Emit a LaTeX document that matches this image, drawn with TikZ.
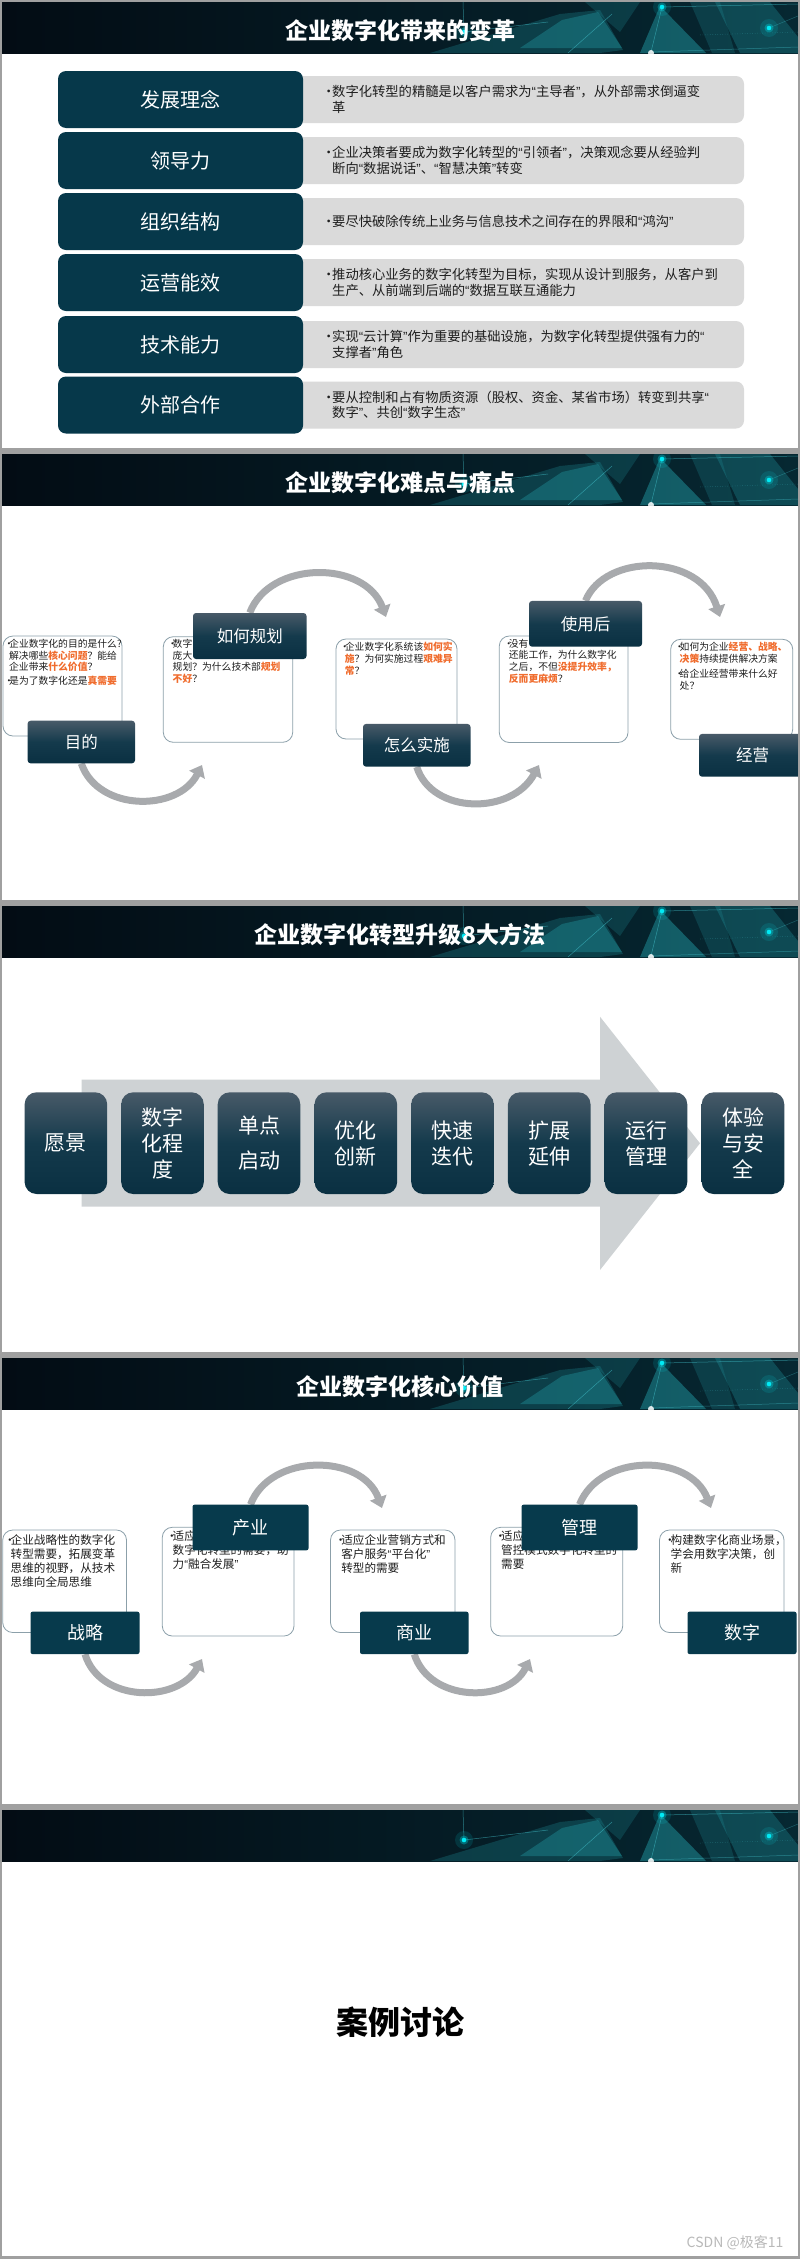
\documentclass[tikz,border=0pt]{standalone}
\usepackage{fontspec}
\setmainfont{Noto Sans CJK SC}
\newfontfamily\qf{Liberation Sans}
\usetikzlibrary{arrows.meta}
\pgfdeclarelayer{back}
\pgfdeclarelayer{front}
\pgfsetlayers{back,main,front}
\definecolor{frame}{RGB}{160,160,160}
\definecolor{navy}{RGB}{6,56,74}
\definecolor{navytwo}{RGB}{7,58,76}
\definecolor{lgray}{RGB}{218,218,218}
\definecolor{txt}{RGB}{30,30,30}
\definecolor{orng}{RGB}{240,108,45}
\definecolor{bord}{RGB}{140,160,170}
\definecolor{arrowgray}{RGB}{168,170,173}
\definecolor{bigarrow}{RGB}{206,210,212}
\definecolor{gtop}{RGB}{72,90,104}
\definecolor{gmid}{RGB}{20,58,76}
\definecolor{gbot}{RGB}{10,48,66}
\definecolor{hl}{RGB}{3,12,20}
\definecolor{hr}{RGB}{6,40,50}
\definecolor{tealA}{RGB}{30,140,150}
\definecolor{tealB}{RGB}{70,200,210}
\definecolor{cyandot}{RGB}{0,235,245}
\definecolor{wm}{RGB}{185,185,185}
\newcommand\bul[1][10pt]{\makebox[#1][l]{•}}
\newcommand\indt[1][10pt]{\hspace*{#1}}
\newcommand\hot[1]{{\color{orng}\bfseries #1}}
\newcommand\ql{{\qf “}}
\newcommand\qr{{\qf ”}}
\newcommand\hdr[1]{%
\begin{scope}[shift={(0,#1)}]
\begin{scope}
\clip (2,0) rectangle (798,51);
\shade[left color=hl,right color=hr] (2,0) rectangle (798,51);
\fill[tealA,opacity=.30] (430,51) -- (560,12) -- (600,8) -- (623,48) -- (600,51) -- cycle;
\fill[tealA,opacity=.45] (520,46) -- (562,18) -- (598,10) -- (622,46) -- cycle;
\fill[tealA,opacity=.25] (585,0) -- (640,0) -- (620,30) -- cycle;
\fill[tealA,opacity=.55] (640,51) -- (660,4) -- (706,51) -- cycle;
\fill[tealA,opacity=.35] (715,0) -- (770,0) -- (798,35) -- (798,51) -- (740,51) -- cycle;
\fill[tealA,opacity=.25] (690,0) -- (720,0) -- (735,51) -- (712,51) -- cycle;
\draw[tealB,opacity=.55,line width=.5] (463,0) -- (464,30) -- (548,20);
\draw[tealB,opacity=.55,line width=.5] (662,5) -- (798,2);
\draw[tealB,opacity=.55,line width=.5] (662,5) -- (651,50);
\draw[tealB,opacity=.55,line width=.5] (568,51) -- (612,12);
\draw[tealB,opacity=.45,line width=.5,dotted] (700,33) -- (798,30);
\draw[tealB,opacity=.45,line width=.5] (651,50) -- (798,45);
\draw[tealB,opacity=.35,line width=.5] (769,26) -- (798,14);
\foreach \px/\py in {464/30,662/5,769/26}{
  \fill[cyandot,opacity=.12] (\px,\py) circle (9);
  \fill[cyandot,opacity=.3] (\px,\py) circle (4.5);
  \fill[cyandot] (\px,\py) circle (2.3);}
\fill[white,opacity=.85] (651,51) circle (3);
\end{scope}
\end{scope}}
\tikzset{
 navybox/.style={fill=navy, rounded corners=8, minimum width=245, minimum height=57, text=white, font=\fontsize{20}{24}\selectfont, inner sep=0},
 graybox/.style={fill=lgray, rounded corners=8, minimum width=454, minimum height=47, inner sep=0},
 rowtext/.style={anchor=west, align=left, inner sep=0, text=txt, font=\fontsize{13.3}{15.5}\selectfont},
 tbox/.style={draw=bord, line width=0.8, fill=white, rounded corners=10, inner sep=0},
 lab/.style={rounded corners=3, text=white, inner sep=0, top color=gtop, bottom color=gbot, middle color=gmid, font=\fontsize{16.5}{18}\selectfont},
 flab/.style={fill=navytwo, rounded corners=2, text=white, inner sep=0, font=\fontsize{18}{20}\selectfont},
 stxt/.style={anchor=north west, align=left, inner sep=0, text=txt, font=\fontsize{9.8}{11.8}\selectfont},
 vtxt/.style={anchor=north west, align=left, inner sep=0, text=txt, font=\fontsize{11.6}{13.9}\selectfont},
 mbox/.style={rounded corners=12, top color=gtop, bottom color=gbot, middle color=gmid, minimum width=82.6, minimum height=101.7, text=white, inner sep=0, align=center, font=\fontsize{21}{26}\selectfont},
 flow/.style={draw=arrowgray, line width=7, -{Triangle[width=17pt,length=11pt]}},
 titlenode/.style={text=white, inner sep=0, font=\fontsize{23}{26}\selectfont\bfseries},
}
\begin{document}
\begin{tikzpicture}[x=1pt,y=-1pt]
\useasboundingbox (0,0) rectangle (800,2259);
\begin{pgfonlayer}{back}
\fill[frame] (0,0) rectangle (800,2259);
\foreach \s in {0,452,904,1356,1808}{\fill[white] (2,\s+2) rectangle (798,\s+448);}
\hdr{2}\hdr{454}\hdr{906}\hdr{1358}\hdr{1810}
\end{pgfonlayer}

% ---------- slide 1 ----------
\node[titlenode] (title1) at (400,31) {企业数字化带来的变革};
\foreach \i/\yy/\lb/\tx in {
 1/99.5/发展理念/{\bul 数字化转型的精髓是以客户需求为\ql 主导者\qr ，从外部需求倒逼变\\\indt 革},
 2/160.5/领导力/{\bul 企业决策者要成为数字化转型的\ql 引领者\qr ，决策观念要从经验判\\\indt 断向\ql 数据说话\qr 、\ql 智慧决策\qr 转变},
 3/221.5/组织结构/{\bul 要尽快破除传统上业务与信息技术之间存在的界限和\ql 鸿沟\qr},
 4/282.5/运营能效/{\bul 推动核心业务的数字化转型为目标，实现从设计到服务，从客户到\\\indt 生产、从前端到后端的\ql 数据互联互通能力},
 5/344.5/技术能力/{\bul 实现\ql 云计算\qr 作为重要的基础设施，为数字化转型提供强有力的\ql\\\indt 支撑者\qr 角色},
 6/405/外部合作/{\bul 要从控制和占有物质资源（股权、资金、某省市场）转变到共享\ql\\\indt 数字\qr 、共创\ql 数字生态\qr}}{
 \node[graybox] (g\i) at (517,\yy) {};
 \node[navybox] (n\i) at (180.5,\yy) {\lb};
 \node[rowtext] (t\i) at (322,\yy) {\tx};
}

% ---------- slide 2 ----------
\node[titlenode] (title2) at (400,483) {企业数字化难点与痛点};
\begin{pgfonlayer}{front}
\node[lab, minimum width=107.4, minimum height=42.6] (L1) at (81.3,742) {目的};
\node[lab, minimum width=113.5, minimum height=46] (L2) at (249.75,636) {如何规划};
\node[lab, minimum width=107.5, minimum height=42.7] (L3) at (416.75,745.3) {怎么实施};
\node[lab, minimum width=113, minimum height=45.7] (L4) at (585.5,623.8) {使用后};
\node[lab, minimum width=107, minimum height=42.7] (L5) at (752.5,755.3) {经营};
\end{pgfonlayer}
\node[tbox, minimum width=119, minimum height=100] (B1) at (62.5,686) {};
\node[tbox, minimum width=129.4, minimum height=105.6] (B2) at (228,689.5) {};
\node[tbox, minimum width=121, minimum height=100] (B3) at (396.5,689) {};
\node[tbox, minimum width=128.7, minimum height=106.5] (B4) at (563.65,689.25) {};
\node[tbox, minimum width=122, minimum height=100] (B5) at (731.7,689.3) {};
\node[stxt] (T1) at (4,638.7) {\bul[5pt]企业数字化的目的是什么?\\\indt[5pt]解决哪些\hot{核心问题}？能给\\\indt[5pt]企业带来\hot{什么价值}？\\[1.5pt]\bul[5pt]是为了数字化还是\hot{真需要}};
\node[stxt] (T2) at (167.5,638.7) {\bul[5pt]数字\\\indt[5pt]庞大\\\indt[5pt]规划？为什么技术部\hot{规划}\\\indt[5pt]\hot{不好}？};
\node[stxt] (T3) at (339.7,642.1) {\bul[5pt]企业数字化系统该\hot{如何实}\\\indt[5pt]\hot{施}？为何实施过程\hot{艰难异}\\\indt[5pt]\hot{常}？};
\node[stxt] (T4) at (503.7,638.7) {\bul[5pt]没有\\\indt[5pt]还能工作，为什么数字化\\\indt[5pt]之后，不但\hot{没提升效率，}\\\indt[5pt]\hot{反而更麻烦}？};
\node[stxt] (T5) at (674.5,642.1) {\bul[5pt]如何为企业\hot{经营、战略、}\\\indt[5pt]\hot{决策}持续提供解决方案\\[3pt]\bul[5pt]给企业经营带来什么好\\\indt[5pt]处？};
\coordinate (e1) at (202,765);
\coordinate (e2) at (386,617);
\coordinate (e3) at (539,765);
\coordinate (e4) at (720,617);
\draw[flow] (L1.south) .. controls (98,812) and (178,812) .. (e1);
\draw[flow] (L2.north) .. controls (270,560) and (365,560) .. (e2);
\draw[flow] (L3.south) .. controls (432,815) and (512,815) .. (e3);
\draw[flow] (L4.north) .. controls (605,553) and (700,553) .. (e4);

% ---------- slide 3 ----------
\node[titlenode] (title3) at (400,935) {企业数字化转型升级8大方法};
\fill[bigarrow] (81.7,1079.5) -- (600,1079.5) -- (600,1016.7) -- (700,1143.3) -- (600,1270) -- (600,1206.7) -- (81.7,1206.7) -- cycle;
\node[mbox] (m1) at (65.9,1143.15) {愿景};
\node[mbox] (m2) at (162.5,1143.15) {数字\\化程\\度};
\node[mbox] (m3) at (259,1143.15) {单点\\[9pt]启动};
\node[mbox] (m4) at (355.85,1143.15) {优化\\创新};
\node[mbox] (m5) at (452.5,1143.15) {快速\\迭代};
\node[mbox] (m6) at (549.25,1143.15) {扩展\\延伸};
\node[mbox] (m7) at (646,1143.15) {运行\\管理};
\node[mbox] (m8) at (743,1143.15) {体验\\与安\\全};

% ---------- slide 4 ----------
\node[titlenode] (title4) at (400,1387) {企业数字化核心价值};
\begin{pgfonlayer}{front}
\node[flab, minimum width=109, minimum height=42.3] (V1) at (85,1632.85) {战略};
\node[flab, minimum width=116, minimum height=45.6] (V2) at (250.5,1527.5) {产业};
\node[flab, minimum width=108.5, minimum height=42.3] (V3) at (414.25,1632.85) {商业};
\node[flab, minimum width=116, minimum height=45.6] (V4) at (579.5,1527.5) {管理};
\node[flab, minimum width=109, minimum height=42.3] (V5) at (742,1632.85) {数字};
\end{pgfonlayer}
\node[tbox, minimum width=123.8, minimum height=102.5] (C1) at (64.6,1581.25) {};
\node[tbox, minimum width=131.7, minimum height=108.7] (C2) at (228.15,1581.65) {};
\node[tbox, minimum width=124.5, minimum height=102.5] (C3) at (392.75,1581.25) {};
\node[tbox, minimum width=132, minimum height=108.7] (C4) at (556.7,1581.65) {};
\node[tbox, minimum width=124.5, minimum height=102.5] (C5) at (721.75,1581.25) {};
\node[vtxt] (U1) at (4,1534.7) {\bul[6.5pt]企业战略性的数字化\\\indt[6.5pt]转型需要，拓展变革\\\indt[6.5pt]思维的视野，从技术\\\indt[6.5pt]思维向全局思维};
\node[vtxt] (U2) at (166,1530.4) {\bul[6.5pt]适应\\\indt[6.5pt]数字化转型的需要，助\\\indt[6.5pt]力\ql 融合发展\qr};
\node[vtxt] (U3) at (334.6,1534.7) {\bul[6.5pt]适应企业营销方式和\\\indt[6.5pt]客户服务\ql 平台化\qr\\\indt[6.5pt]转型的需要};
\node[vtxt] (U4) at (494.5,1530.4) {\bul[6.5pt]适应\\\indt[6.5pt]管控模式数字化转型的\\\indt[6.5pt]需要};
\node[vtxt] (U5) at (664,1534.7) {\bul[6.5pt]构建数字化商业场景，\\\indt[6.5pt]学会用数字决策，创\\\indt[6.5pt]新};
\coordinate (f1) at (202,1659);
\coordinate (f2) at (382,1508);
\coordinate (f3) at (530,1659);
\coordinate (f4) at (711,1508);
\draw[flow] (V1.south) .. controls (100,1703) and (178,1703) .. (f1);
\draw[flow] (V2.north) .. controls (270,1453) and (362,1453) .. (f2);
\draw[flow] (V3.south) .. controls (430,1703) and (508,1703) .. (f3);
\draw[flow] (V4.north) .. controls (600,1453) and (690,1453) .. (f4);

% ---------- slide 5 ----------
\node[inner sep=0, font=\fontsize{32}{34}\selectfont\bfseries] (case) at (400,2022) {案例讨论};
\node[inner sep=0, text=wm, font=\fontsize{14}{16}\selectfont] (mark) at (735,2243) {CSDN @极客11};

\begin{pgfonlayer}{front}
\fill[frame] (798,0) rectangle (800,2259);
\end{pgfonlayer}
\end{tikzpicture}
\end{document}
